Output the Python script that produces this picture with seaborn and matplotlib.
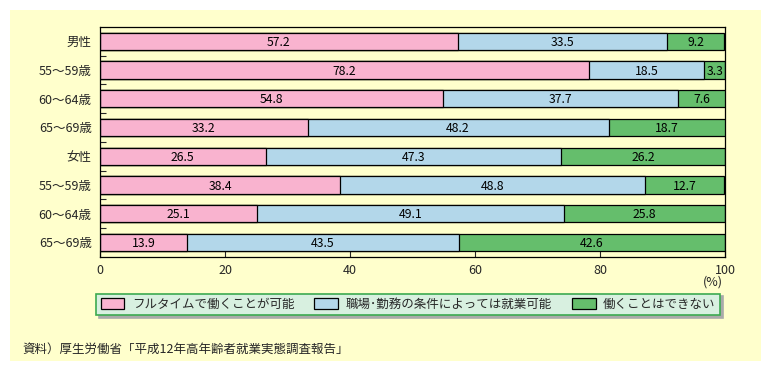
import matplotlib
matplotlib.use("Agg")
import matplotlib.pyplot as plt
import matplotlib.patches as mpatches
import numpy as np
import pandas as pd
import seaborn as sns

# data
groups = ["男性", "55～59歳", "60～64歳", "65～69歳", "女性", "55～59歳", "60～64歳", "65～69歳"]
fulltime = [57.2, 78.2, 54.8, 33.2, 26.5, 38.4, 25.1, 13.9]
conditional = [33.5, 18.5, 37.7, 48.2, 47.3, 48.8, 49.1, 43.5]
cannot = [9.2, 3.3, 7.6, 18.7, 26.2, 12.7, 25.8, 42.6]
series_names = ["フルタイムで働くことが可能", "職場･勤務の条件によっては就業可能", "働くことはできない"]
colors = ["#F9B3CF", "#B3D7EA", "#65BE6C"]

sns.set_theme(style="white")
plt.rcParams["font.family"] = ["Noto Sans CJK JP", "DejaVu Sans"]

rows = [f"r{i}" for i in range(len(groups))]
df = pd.DataFrame({"row": rows, "a": fulltime, "b": conditional, "c": cannot})
df["cum_a"] = df["a"]
df["cum_b"] = df["a"] + df["b"]
df["cum_c"] = df["a"] + df["b"] + df["c"]

fig = plt.figure(figsize=(7.71, 3.71), dpi=100, facecolor="white")
fig.patches.append(mpatches.Rectangle((10 / 771, 10 / 371), 751 / 771, 351 / 371,
                                      transform=fig.transFigure, facecolor="#FFFFCC",
                                      edgecolor="none", zorder=-10))
ax = fig.add_axes([100 / 771, 1 - 256.7 / 371, 625 / 771, 229.7 / 371])
ax.set_facecolor("#FFFFCC")

# draw back to front: cumulative totals, each covered by the next
for col, color in zip(["cum_c", "cum_b", "cum_a"], colors[::-1]):
    sns.barplot(data=df, x=col, y="row", order=rows, orient="h", color=color,
                width=0.6, edgecolor="black", linewidth=0.9, saturation=1,
                errorbar=None, ax=ax)

# value labels
for i in range(len(groups)):
    starts = [0, fulltime[i], fulltime[i] + conditional[i]]
    for s, v in zip(starts, [fulltime[i], conditional[i], cannot[i]]):
        ax.text(s + v / 2, i + 0.04, f"{v:.1f}", ha="center", va="center",
                fontsize=8.8, color="black")

ax.set_xlim(0, 100)
ax.set_ylim(7.5, -0.5)
ax.set_xticks([0, 20, 40, 60, 80, 100])
ax.set_xticklabels(["0", "20", "40", "60", "80", "100"], fontsize=9)
ax.set_yticks(range(len(groups)))
ax.set_yticklabels(groups, fontsize=9)
ax.set_yticks(np.arange(0.5, 7, 1), minor=True)
ax.tick_params(axis="x", direction="in", length=5, width=0.8, pad=5, bottom=True)
ax.tick_params(axis="y", which="major", length=0, pad=6)
ax.tick_params(axis="y", which="minor", direction="in", length=4, width=0.8, left=True)
ax.set_xlabel("")
ax.set_ylabel("")
for sp in ax.spines.values():
    sp.set_visible(True)
    sp.set_color("black")
    sp.set_linewidth(0.9)

fig.text(713 / 771, 1 - 282 / 371, "(%)", ha="center", va="center", fontsize=9)

handles = [mpatches.Patch(facecolor=c, edgecolor="black", linewidth=0.9) for c in colors]
leg = fig.legend(handles, series_names, loc="center", bbox_to_anchor=(408 / 771, 1 - 304.5 / 371),
                 ncol=3, fontsize=9, frameon=True, fancybox=False, shadow={"color": "#AAAAAA", "alpha": 1},
                 facecolor="#D8F0E0", edgecolor="#3CAA50", handlelength=1.9, handleheight=1.0,
                 columnspacing=1.6, handletextpad=0.6, borderpad=0.35)
leg.get_frame().set_linewidth(1.2)

fig.text(22 / 771, 1 - 349 / 371, "資料）厚生労働省「平成12年高年齢者就業実態調査報告」",
         ha="left", va="center", fontsize=9)

fig.savefig("out.png", dpi=100, facecolor="white")
